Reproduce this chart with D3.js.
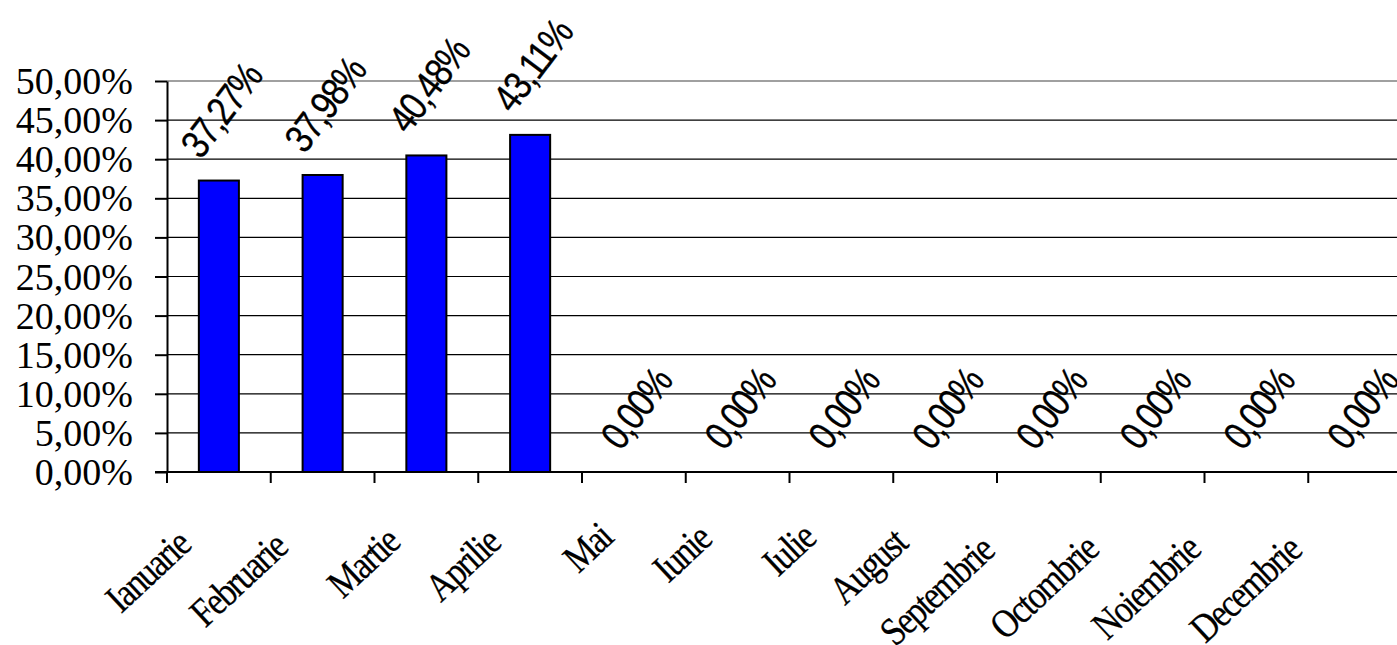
<script src="https://d3js.org/d3.v7.min.js"></script>
<style>
  body { margin: 0; background: #fff; }
  svg { display: block; }
</style>
<body>
<svg width="1397" height="645"></svg>
<script>
    // values
    const months = ['Ianuarie', 'Februarie', 'Martie', 'Aprilie', 'Mai', 'Iunie',
        'Iulie', 'August', 'Septembrie', 'Octombrie', 'Noiembrie', 'Decembrie'];
    const values = [37.27, 37.98, 40.48, 43.11, 0, 0, 0, 0, 0, 0, 0, 0];
    const yTicks = [0, 5, 10, 15, 20, 25, 30, 35, 40, 45, 50];

    const svg = d3.select('svg');

    const plotLeft = 167, plotRight = 1412, plotTop = 81, plotBottom = 472;

    const x = d3.scaleBand()
        .domain(months)
        .range([plotLeft, plotRight])
        .paddingInner(0.614)
        .paddingOuter(0.307);

    const y = d3.scaleLinear()
        .domain([0, 50])
        .range([plotBottom, plotTop]);

    const pct = v => d3.format('.2f')(v).replace('.', ',') + '%';
    const rad = a => a * Math.PI / 180;

    // gridlines
    svg.append('g')
        .selectAll('line')
        .data(yTicks.filter(d => d > 0))
        .join('line')
        .attr('x1', plotLeft).attr('x2', plotRight)
        .attr('y1', d => y(d)).attr('y2', d => y(d))
        .attr('stroke', d => d === 50 ? '#808080' : '#000')
        .attr('stroke-width', d => d === 50 ? 1.5 : 1.2);

    // y axis
    const yAxis = svg.append('g')
        .attr('transform', `translate(${plotLeft},0)`)
        .call(d3.axisLeft(y).tickValues(yTicks).tickSize(12).tickSizeOuter(0).tickFormat(pct));
    yAxis.select('.domain').attr('stroke-width', 2);
    yAxis.selectAll('.tick line').attr('stroke-width', 2);
    yAxis.selectAll('.tick text')
        .attr('x', -34)
        .attr('dy', '0.33em')
        .style('font-family', '"Liberation Serif", "Times New Roman", serif')
        .style('font-size', '38px')
        .attr('fill', '#000');

    // bars
    svg.append('g')
        .selectAll('rect')
        .data(values)
        .join('rect')
        .attr('x', (d, i) => x(months[i]))
        .attr('width', x.bandwidth())
        .attr('y', d => y(d))
        .attr('height', d => y(0) - y(d))
        .attr('fill', '#0000ff')
        .attr('stroke', '#000')
        .attr('stroke-width', 2);

    // x axis: ticks on the band edges
    const xAxisG = svg.append('g');
    xAxisG.append('line')
        .attr('x1', plotLeft - 12).attr('x2', plotRight)
        .attr('y1', plotBottom).attr('y2', plotBottom)
        .attr('stroke', '#000').attr('stroke-width', 2);
    xAxisG.selectAll('line.tk')
        .data(months)
        .join('line')
        .attr('class', 'tk')
        .attr('x1', d => x(d) - x.step() * x.paddingOuter())
        .attr('x2', d => x(d) - x.step() * x.paddingOuter())
        .attr('y1', plotBottom).attr('y2', plotBottom + 11)
        .attr('stroke', '#000').attr('stroke-width', 2);

    // category labels, rotated and a bit narrowed like the original
    const catScale = 0.85, catAngle = 43;
    xAxisG.selectAll('text')
        .data(months)
        .join('text')
        .text(d => d)
        .attr('text-anchor', 'end')
        .style('font-family', '"Liberation Serif", "Times New Roman", serif')
        .style('font-size', '40px')
        .style('letter-spacing', '-2px')
        .attr('fill', '#000')
        .attr('stroke', '#000')
        .attr('stroke-width', 0.3)
        .each(function (d, i) {
            const w = this.getComputedTextLength() * catScale;
            const cx = x(d) + x.bandwidth() / 2;
            const ex = cx - 27 - 1.8 * i - 0.3 * (w - 100);
            const ey = 540 + 0.15 * (w - 47);
            d3.select(this).attr('transform', `translate(${ex},${ey}) rotate(${-catAngle}) scale(${catScale},1)`);
        });

    // value labels, rotated
    const valAngle = 53, valScale = 0.85, capH = 28.6;
    svg.append('g')
        .selectAll('text')
        .data(values)
        .join('text')
        .text(d => pct(d))
        .attr('text-anchor', 'middle')
        .style('font-family', '"Liberation Sans", Arial, sans-serif')
        .style('font-size', '40px')
        .style('letter-spacing', '-2px')
        .attr('fill', '#000')
        .attr('stroke', '#000')
        .attr('stroke-width', 0.3)
        .each(function (d, i) {
            const L = this.getComputedTextLength() * valScale;
            const s = Math.sin(rad(valAngle)), c = Math.cos(rad(valAngle));
            const boxH = L * s + capH * c;
            const vx = x(months[i]) + x.bandwidth() / 2 + 2;
            const vy = y(d) - 20 - boxH / 2;
            const px = vx + s * capH / 2, py = vy + c * capH / 2;
            d3.select(this).attr('transform', `translate(${px},${py}) rotate(${-valAngle}) scale(${valScale},1)`);
        });
</script>
</body>
